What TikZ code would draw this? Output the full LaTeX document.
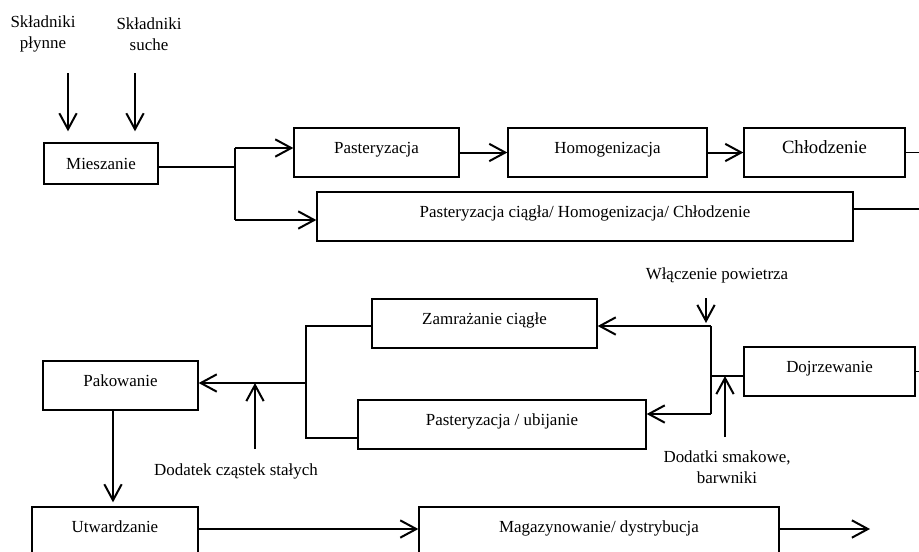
\documentclass[tikz,border=0pt]{standalone}
\usepackage{fontspec}
\setmainfont{Liberation Serif}
\usetikzlibrary{arrows.meta}
\newdimen\px \px=0.75pt

\begin{document}
\begin{tikzpicture}[x=0.75pt, y=-0.75pt,
  every node/.style={font=\fontsize{12.7}{15.5}\selectfont},
  box/.style={draw, line width=1pt, minimum height=49\px, inner sep=0pt,
    text height=6pt, text depth=5pt},
  line/.style={line width=1pt},
  arr/.style={line width=1.5pt, -{Straight Barb[length=12pt, width=13pt]}}]
  %tikz  produkcja lodow, schemat
    \clip (0,0) rectangle (919,551);

    \node[align=center] (plyn) at (43,34) {Składniki\\płynne};
    \node[align=center] (such) at (149,34) {Składniki\\suche};
    \node[box, minimum width=114\px, minimum height=41\px, text height=10.5pt, text depth=1.5pt] (mies) at (101,163.5) {Mieszanie};
    \node[box, minimum width=165\px] (past) at (376.5,152.5) {Pasteryzacja};
    \node[box, minimum width=199\px] (homo) at (607.5,152.5) {Homogenizacja};
    \node[box, minimum width=161\px, font=\fontsize{14}{16}\selectfont] (chl) at (824.5,152.5) {Chłodzenie};
    \node[box, minimum width=536\px] (pch) at (585,216.5) {Pasteryzacja ciągła/ Homogenizacja/ Chłodzenie};

    \node (wlacz) at (717,275) {Włączenie powietrza};
    \node[box, minimum width=225\px] (zam) at (484.5,323.5) {Zamrażanie ciągłe};
    \node[box, minimum width=171\px] (dojr) at (829.5,371.5) {Dojrzewanie};
    \node[box, minimum width=288\px] (ubij) at (502,424.5) {Pasteryzacja / ubijanie};
    \node[align=center] (dodsm) at (727,467) {Dodatki smakowe,\\barwniki};
    \node[box, minimum width=155\px] (pak) at (120.5,385.5) {Pakowanie};
    \node (dodcz) at (236,471) {Dodatek cząstek stałych};
    \node[box, minimum width=166\px] (utw) at (115,531.5) {Utwardzanie};
    \node[box, minimum width=360\px] (mag) at (599,531.5) {Magazynowanie/ dystrybucja};

    \coordinate (re) at (919,0);
    \coordinate (pa) at (68,73);
    \coordinate (sa) at (135,73);
    \coordinate (ma) at (235,167);
    \coordinate (ja) at (235,148);
    \coordinate (jb) at (235,220);
    \coordinate (pe) at (919,209);
    \coordinate (wa) at (706,298);
    \coordinate (jz) at (711,326);
    \coordinate (jd) at (711,376);
    \coordinate (ju) at (711,414);
    \coordinate (da) at (725,437);
    \coordinate (lz) at (306,326);
    \coordinate (lp) at (306,383);
    \coordinate (lu) at (306,438);
    \coordinate (ca) at (255,449);
    \coordinate (pd) at (113,0);
    \coordinate (ub) at (0,529);
    \coordinate (me) at (870,529);

    \draw[arr, shorten >=11\px] (pa) -- (pa |- mies.north);
    \draw[arr, shorten >=11\px] (sa) -- (sa |- mies.north);
    \draw[line] (mies.east |- ma) -- (ma);
    \draw[line] (ja) -- (jb);
    \draw[arr] (ja) -- (ja -| past.west);
    \draw[arr] (jb) -- (jb -| pch.west);
    \draw[arr] (past) -- (homo);
    \draw[arr] (homo) -- (chl);
    \draw[line] (chl.east) -- (chl.east -| re);
    \draw[line] (pe -| pch.east) -- (pe);

    \draw[arr, shorten >=3\px] (wa) -- (wa |- jz);
    \draw[line] (jz) -- (ju);
    \draw[arr] (jz) -- (jz -| zam.east);
    \draw[arr] (ju) -- (ju -| ubij.east);
    \draw[line] (jd) -- (jd -| dojr.west);
    \draw[line] (dojr.east) -- (dojr.east -| re);
    \draw[arr] (da) -- (da |- jd);
    \draw[line] (zam.west |- lz) -- (lz) -- (lu) -- (lu -| ubij.west);
    \draw[arr] (lp) -- (lp -| pak.east);
    \draw[arr] (ca) -- (ca |- lp);
    \draw[arr, shorten >=4\px] (pak.south -| pd) -- (utw.north -| pd);
    \draw[arr] (utw.east |- ub) -- (mag.west |- ub);
    \draw[arr] (mag.east |- me) -- (me);
  \end{tikzpicture}
\end{document}
